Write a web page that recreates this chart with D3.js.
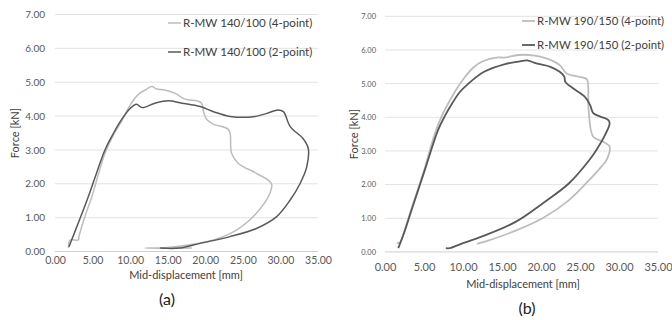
<!DOCTYPE html>
<html>
<head>
<meta charset="utf-8">
<script src="https://cdn.jsdelivr.net/npm/d3@7"></script>
<style>
  body { margin: 0; background: #fff; }
  svg { display: block; font-family: Lato, "Open Sans", sans-serif; }
</style>
</head>
<body>
<div id="chart"></div>
<script>
// tick values (shared by both panels)
const xTicks = [0, 5, 10, 15, 20, 25, 30, 35]
const yTicks = [0, 1, 2, 3, 4, 5, 6, 7]

// panel (a) — R-MW 140/100, [displacement mm, force kN]
const a4point = [
  [1.8, 0.1], [2.0, 0.34], [3.1, 0.34], [3.2, 0.45], [4.0, 1.05], [4.9, 1.62], [5.8, 2.3], [6.65, 2.9],
  [7.8, 3.45], [8.87, 3.85], [9.8, 4.25], [10.6, 4.52], [11.3, 4.68], [12.0, 4.77], [12.9, 4.87],
  [13.5, 4.8], [14.6, 4.77], [16.0, 4.67], [17.3, 4.5], [18.9, 4.45], [19.5, 4.38], [19.8, 4.1],
  [20.2, 3.9], [21.0, 3.77], [23.0, 3.62], [23.3, 3.5], [23.5, 2.9], [24.4, 2.6], [26.8, 2.31],
  [28.8, 2.01], [28.6, 1.72], [26.8, 1.13], [24.2, 0.64], [21.1, 0.34], [18.0, 0.2],
  [15.0, 0.12], [12.0, 0.1], [18.2, 0.1]
]
const a2point = [
  [1.86, 0.14], [3.2, 0.9], [4.43, 1.62], [5.5, 2.3], [6.65, 3.0], [7.8, 3.5], [8.87, 3.9], [9.8, 4.18],
  [10.4, 4.3], [10.87, 4.35], [11.6, 4.25], [13.3, 4.38], [15.1, 4.45], [16.9, 4.38], [19.3, 4.28],
  [21.1, 4.13], [23.3, 3.99], [26.4, 3.98], [28.2, 4.08], [29.7, 4.18], [30.4, 4.13], [31.3, 3.69],
  [33.0, 3.34], [33.7, 3.05], [33.5, 2.5], [32.6, 2.0], [31.3, 1.52], [29.5, 1.03], [26.8, 0.68],
  [23.3, 0.44], [19.3, 0.24], [16.6, 0.1], [14.0, 0.1]
]

// panel (b) — R-MW 190/150
const b4point = [
  [1.5, 0.26], [1.9, 0.28], [2.6, 0.7], [3.2, 1.15], [4.9, 2.34], [6.4, 3.52], [7.2, 4.0], [8.1, 4.41],
  [9.2, 4.85], [10.3, 5.21], [11.3, 5.47], [12.4, 5.65], [14.5, 5.78], [15.3, 5.77], [17.1, 5.85],
  [19.0, 5.84], [20.7, 5.75], [22.4, 5.55], [23.3, 5.3], [25.4, 5.18], [25.9, 5.12], [26.1, 4.22],
  [26.7, 3.42], [28.0, 3.27], [28.8, 3.13], [28.4, 2.73], [27.8, 2.55], [26.2, 2.14], [23.6, 1.54],
  [20.2, 1.0], [16.4, 0.6], [13.4, 0.35], [12.1, 0.26], [11.8, 0.24]
]
const b2point = [
  [1.7, 0.11], [2.5, 0.6], [3.4, 1.24], [5.1, 2.43], [6.8, 3.62], [7.7, 4.05], [8.6, 4.41], [9.6, 4.75],
  [10.7, 5.0], [12.7, 5.35], [15.4, 5.58], [17.3, 5.66], [18.2, 5.69], [19.4, 5.6], [21.2, 5.5],
  [22.4, 5.35], [23.0, 5.2], [23.1, 5.06], [24.1, 4.86], [25.6, 4.61], [26.3, 4.36], [26.7, 4.12],
  [27.6, 4.02], [28.6, 3.92], [28.8, 3.82], [28.2, 3.47], [27.1, 3.03], [26.2, 2.73], [23.6, 2.04],
  [20.2, 1.44], [16.8, 0.9], [12.9, 0.5], [10.0, 0.26], [8.3, 0.11], [7.8, 0.11]
]

const width = 672
const height = 320
const lightColor = '#bdbdbd'
const darkColor = '#595959'
const textColor = '#595959'
const gridColor = '#e3e3e3'

const svg = d3.select('#chart').append('svg')
  .attr('width', width)
  .attr('height', height)

function drawPanel(p) {
  const x = d3.scaleLinear().domain([0, 35]).range(p.xRange)
  const y = d3.scaleLinear().domain([0, 7]).range(p.yRange)
  const g = svg.append('g')

  // gridlines
  g.append('g')
    .selectAll('line')
    .data(yTicks)
    .join('line')
    .attr('x1', p.xRange[0])
    .attr('x2', p.xRange[1])
    .attr('y1', d => y(d))
    .attr('y2', d => y(d))
    .attr('stroke', d => d === 0 ? '#d0d0d0' : gridColor)
    .attr('stroke-width', 1)

  // y axis
  const yAxis = g.append('g')
    .attr('transform', `translate(${p.xRange[0]},0)`)
    .call(d3.axisLeft(y).tickValues(yTicks).tickSize(0).tickPadding(p.yPad).tickFormat(d3.format('.2f')))
  yAxis.select('.domain').remove()
  yAxis.selectAll('text')
    .attr('font-family', 'Lato, sans-serif')
    .attr('font-size', p.yFont)
    .attr('fill', textColor)

  // x axis
  const xAxis = g.append('g')
    .attr('transform', `translate(0,${p.yRange[0]})`)
    .call(d3.axisBottom(x).tickValues(xTicks).tickSize(0).tickPadding(p.xPad).tickFormat(d3.format('.2f')))
  xAxis.select('.domain').remove()
  xAxis.selectAll('text')
    .attr('font-family', 'Lato, sans-serif')
    .attr('font-size', p.xFont)
    .attr('fill', textColor)

  // curves (smoothed like the spreadsheet original)
  const line = d3.line()
    .x(d => x(d[0]))
    .y(d => y(d[1]))
    .curve(d3.curveCatmullRom.alpha(0.5))
  p.series.forEach(s => {
    g.append('path')
      .datum(s.data)
      .attr('d', line)
      .attr('fill', 'none')
      .attr('stroke', s.color)
      .attr('stroke-width', s.width)
      .attr('stroke-linejoin', 'round')
  })

  // legend
  p.series.forEach((s, i) => {
    const ly = p.legend.y[i]
    g.append('line')
      .attr('x1', p.legend.x)
      .attr('x2', p.legend.x + 13)
      .attr('y1', ly)
      .attr('y2', ly)
      .attr('stroke', s.color)
      .attr('stroke-width', s.width)
    g.append('text')
      .attr('x', p.legend.x + 15)
      .attr('y', ly)
      .attr('dy', '0.35em')
      .attr('font-size', p.legend.font)
      .attr('fill', '#404040')
      .text(s.name)
  })

  // axis titles
  g.append('text')
    .attr('x', p.xTitle[0])
    .attr('y', p.xTitle[1])
    .attr('text-anchor', 'middle')
    .attr('font-size', 11)
    .attr('fill', '#404040')
    .text('Mid-displacement [mm]')
  g.append('text')
    .attr('transform', `translate(${p.yTitle[0]},${p.yTitle[1]}) rotate(-90)`)
    .attr('text-anchor', 'middle')
    .attr('dy', '0.35em')
    .attr('font-size', 11)
    .attr('fill', '#404040')
    .text('Force [kN]')

  // panel label
  g.append('text')
    .attr('x', p.label[0])
    .attr('y', p.label[1])
    .attr('text-anchor', 'middle')
    .attr('dy', '0.35em')
    .attr('font-size', 16)
    .attr('fill', '#222')
    .text(p.label[2])
}

drawPanel({
  xRange: [55, 318],
  yRange: [251.5, 14.5],
  yPad: 10, xPad: 5, yFont: 10, xFont: 10.5,
  series: [
    { name: 'R-MW 140/100 (4-point)', data: a4point, color: lightColor, width: 1.5 },
    { name: 'R-MW 140/100 (2-point)', data: a2point, color: darkColor, width: 1.5 }
  ],
  legend: { x: 168, y: [23, 52], font: 11.6 },
  xTitle: [186, 279],
  yTitle: [15, 133],
  label: [167, 299, '(a)']
})

drawPanel({
  xRange: [385, 658],
  yRange: [251.9, 16.3],
  yPad: 9, xPad: 11, yFont: 7.5, xFont: 11,
  series: [
    { name: 'R-MW 190/150 (4-point)', data: b4point, color: lightColor, width: 1.8 },
    { name: 'R-MW 190/150 (2-point)', data: b2point, color: darkColor, width: 1.8 }
  ],
  legend: { x: 522, y: [21, 45], font: 11.4 },
  xTitle: [523, 288],
  yTitle: [354, 134],
  label: [527, 308, '(b)']
})
</script>
</body>
</html>
